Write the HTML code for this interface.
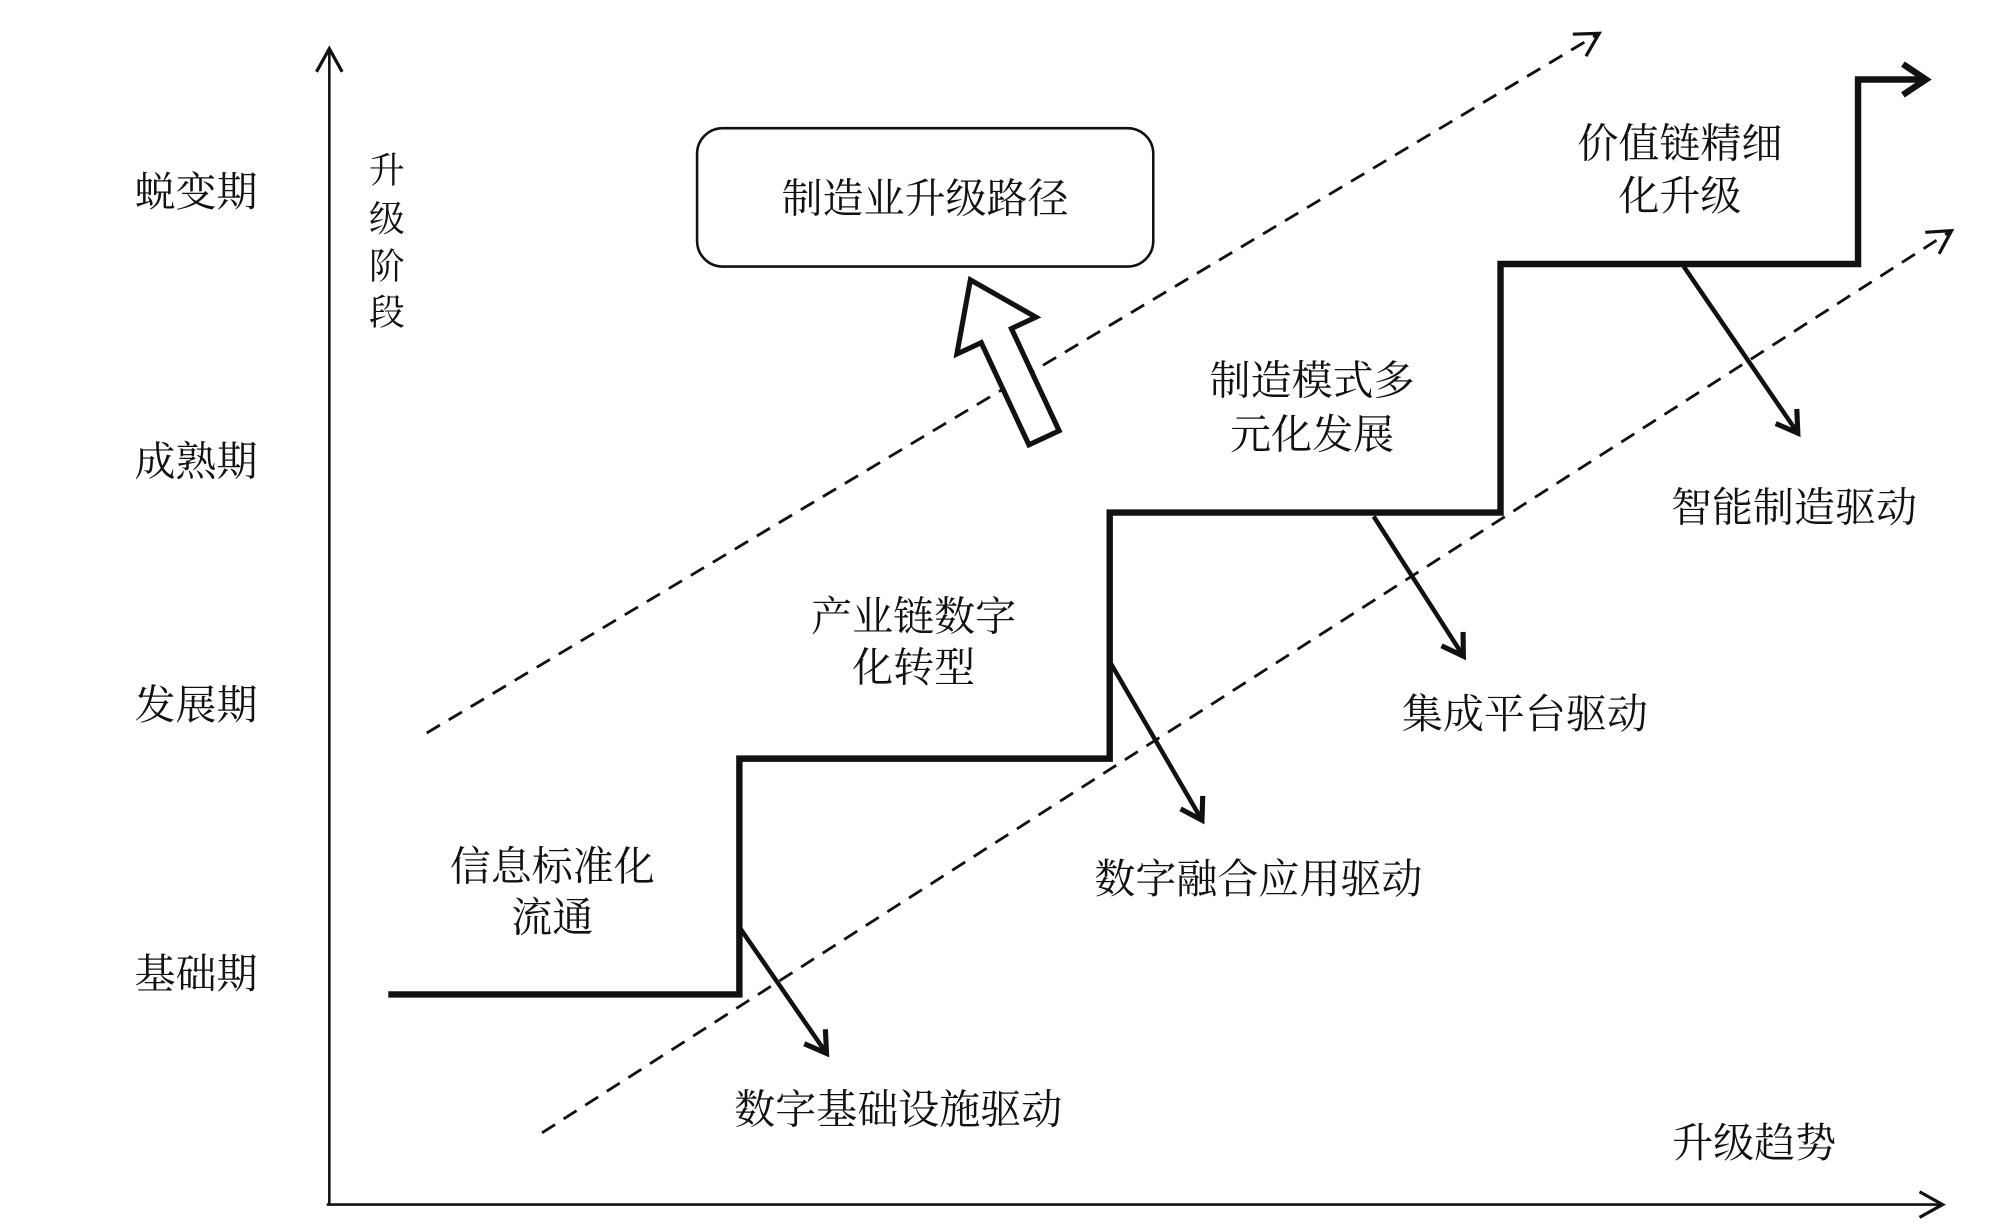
<!DOCTYPE html>
<html><head><meta charset="utf-8"><style>
html,body{margin:0;padding:0;background:#fff;}
svg{display:block;}
text{font-family:"Liberation Serif","Noto Serif CJK SC","Noto Sans CJK SC",serif;fill:#111;text-anchor:middle;dominant-baseline:central;font-size:32px;}
</style></head><body>
<svg width="1999" height="1231" viewBox="0 0 1560 960.6" xmlns="http://www.w3.org/2000/svg">
<defs>
<marker id="open" markerWidth="12" markerHeight="12" refX="10" refY="6" orient="auto" markerUnits="userSpaceOnUse" viewBox="0 0 12 12">
<path d="M0,0 L10,6 L0,12" fill="none" stroke="#111" stroke-width="2"/></marker>
<marker id="open2" markerWidth="24" markerHeight="24" refX="20" refY="12" orient="auto" markerUnits="userSpaceOnUse" viewBox="0 0 24 24">
<path d="M2,2 L20,12 L2,22" fill="none" stroke="#111" stroke-width="2.5"/></marker>
<marker id="dr" markerWidth="30" markerHeight="30" refX="24" refY="15" orient="auto" markerUnits="userSpaceOnUse" viewBox="0 0 30 30">
<path d="M8,5 L24,15 L8,25" fill="none" stroke="#111" stroke-width="4"/></marker>
<marker id="big" markerWidth="40" markerHeight="40" refX="32" refY="20" orient="auto" markerUnits="userSpaceOnUse" viewBox="0 0 40 40">
<path d="M14,8 L32,20 L14,32" fill="none" stroke="#111" stroke-width="5"/></marker>
</defs>
<!-- axes -->
<line x1="257" y1="940" x2="257" y2="38" stroke="#111" stroke-width="2" marker-end="url(#open2)"/>
<line x1="255" y1="940" x2="1516" y2="940" stroke="#111" stroke-width="2" marker-end="url(#open2)"/>
<!-- dashed -->
<line x1="333" y1="572" x2="1248" y2="26" stroke="#111" stroke-width="2.2" stroke-dasharray="12,8" marker-end="url(#open2)"/>
<line x1="423" y1="884" x2="1523" y2="180" stroke="#111" stroke-width="2.2" stroke-dasharray="12,8" marker-end="url(#open2)"/>
<!-- staircase -->
<polyline points="303,776 577,776 577,592 866,592 866,400 1171,400 1171,206 1450,206 1450,62 1503,62" fill="none" stroke="#111" stroke-width="5" marker-end="url(#big)"/>
<!-- drive arrows -->
<line x1="578" y1="725" x2="645" y2="822" stroke="#111" stroke-width="3.5" marker-end="url(#dr)"/>
<line x1="867" y1="518" x2="938" y2="640" stroke="#111" stroke-width="3.5" marker-end="url(#dr)"/>
<line x1="1072" y1="403" x2="1142" y2="512" stroke="#111" stroke-width="3.5" marker-end="url(#dr)"/>
<line x1="1314" y1="208" x2="1403" y2="338" stroke="#111" stroke-width="3.5" marker-end="url(#dr)"/>
<!-- box -->
<rect x="544" y="100" width="356" height="108" rx="20" fill="#fff" stroke="#111" stroke-width="2"/>
<text x="722" y="155">制造业升级路径</text>
<!-- hollow arrow -->
<g transform="translate(786,280) rotate(-25)">
<polygon points="0,-68 34,-20 13,-20 13,68 -13,68 -13,-20 -34,-20" fill="#fff" stroke="#111" stroke-width="4" stroke-linejoin="miter"/>
</g>
<!-- left labels -->
<text x="153" y="150">蜕变期</text>
<text x="153" y="360">成熟期</text>
<text x="153" y="550">发展期</text>
<text x="153" y="760">基础期</text>
<g style="font-size:28px">
<text x="302" y="133" style="font-size:28px">升</text>
<text x="302" y="171" style="font-size:28px">级</text>
<text x="302" y="208" style="font-size:28px">阶</text>
<text x="302" y="244" style="font-size:28px">段</text>
</g>
<text x="431" y="676">信息标准化</text>
<text x="431" y="716">流通</text>
<text x="713" y="481">产业链数字</text>
<text x="713" y="521">化转型</text>
<text x="1024" y="297">制造模式多</text>
<text x="1024" y="339">元化发展</text>
<text x="1311" y="112">价值链精细</text>
<text x="1311" y="153">化升级</text>
<text x="701" y="866">数字基础设施驱动</text>
<text x="982" y="686">数字融合应用驱动</text>
<text x="1190" y="557">集成平台驱动</text>
<text x="1400" y="396">智能制造驱动</text>
<text x="1369" y="892">升级趋势</text>
</svg>
</body></html>
